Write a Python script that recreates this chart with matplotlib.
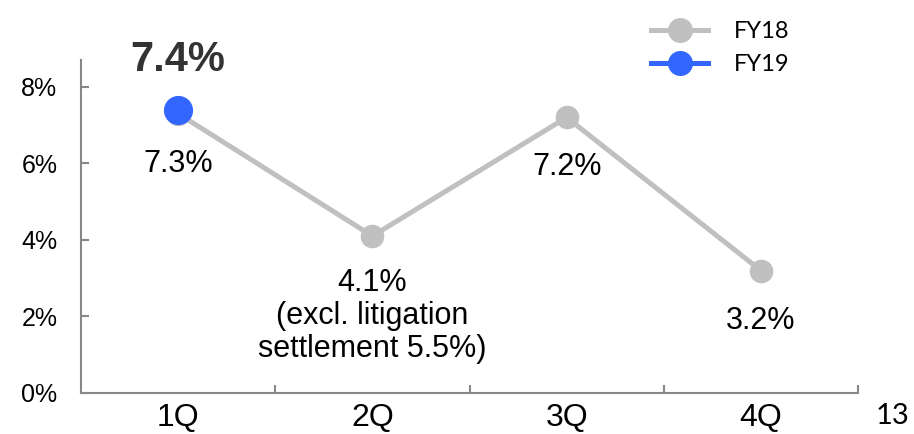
import matplotlib
matplotlib.use("Agg")
import matplotlib.pyplot as plt
from matplotlib.lines import Line2D

plt.rcParams['font.family'] = ['Liberation Sans', 'DejaVu Sans']

quarters = ["1Q", "2Q", "3Q", "4Q"]
fy18 = [7.3, 4.1, 7.2, 3.2]
fy19 = [7.4]
fy18_labels = ["7.3%", "4.1%\n(excl. litigation\nsettlement 5.5%)", "7.2%", "3.2%"]
fy19_labels = ["7.4%"]
yticks = [0, 2, 4, 6, 8]

grey = "#C0C0C0"
blue = "#3366FF"

fig = plt.figure(figsize=(9.14, 4.34), dpi=100)
ax = fig.add_axes([81/914, 1 - 393/434, 777/914, 333/434])

x18 = list(range(len(fy18)))
x19 = list(range(len(fy19)))
ax.plot(x18, fy18, '-o', color=grey, lw=3.6, ms=16, zorder=2)
ax.plot(x19, fy19, '-o', color=blue, lw=3.6, ms=20, zorder=3)

ax.set_xlim(-0.5, len(quarters) - 0.5)
ax.set_ylim(0, 8.7)

# boundary ticks on x, labels centred in each category
ax.set_xticks([i + 0.5 for i in range(len(quarters))])
ax.set_xticklabels([])
ax.set_xticks(x18, minor=True)
ax.set_xticklabels(quarters, minor=True, fontsize=23)
ax.tick_params(axis='x', which='minor', length=0, pad=7)
ax.tick_params(axis='x', which='major', direction='in', length=6, color="#888888", width=1.5)

ax.set_yticks(yticks)
ax.set_yticklabels([f"{v}%" for v in yticks], fontsize=18)
ax.tick_params(axis='y', direction='in', length=6, color="#888888", width=1.5, pad=17)

for s in ['top', 'right']:
    ax.spines[s].set_visible(False)
for s in ['left', 'bottom']:
    ax.spines[s].set_color("#888888")
    ax.spines[s].set_linewidth(1.5)

for i, (v, t) in enumerate(zip(fy18, fy18_labels)):
    if "\n" in t:
        ax.annotate(t, (i, v), xytext=(0, -23), textcoords='offset points',
                    ha='center', va='top', fontsize=22, linespacing=1.12)
    else:
        ax.annotate(t, (i, v), xytext=(0, -36), textcoords='offset points',
                    ha='center', va='center', fontsize=22)

for i, (v, t) in enumerate(zip(fy19, fy19_labels)):
    ax.annotate(t, (i, v), xytext=(0, 36), textcoords='offset points',
                ha='center', va='center', fontsize=30, fontweight='bold', color="#333333")

handles = [Line2D([], [], color=grey, lw=3.6, marker='o', ms=17, label="FY18"),
           Line2D([], [], color=blue, lw=3.6, marker='o', ms=17, label="FY19")]
fig.legend(handles=handles, loc='upper left', bbox_to_anchor=(630/914, 1.0),
           frameon=False, handlelength=2.4, handletextpad=1.1, labelspacing=0.5,
           prop={'family': ['Lato', 'DejaVu Sans'], 'size': 17})

fig.text(876/914, 1 - 416/434, "13", fontsize=21, family=['Lato', 'DejaVu Sans'],
         va='center', ha='left')

plt.savefig("out.png", dpi=100)
